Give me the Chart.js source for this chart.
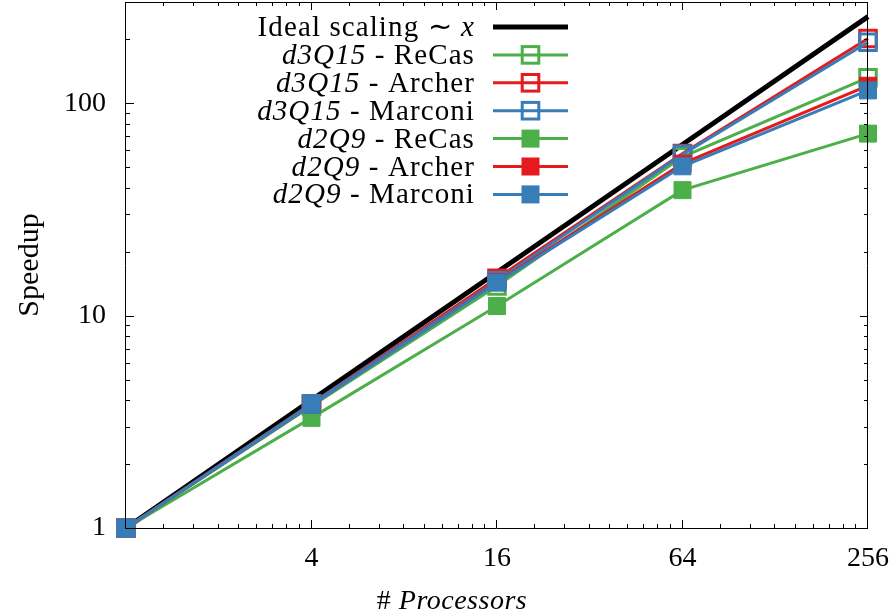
<!DOCTYPE html>
<html>
<head>
<meta charset="utf-8">
<script src="https://cdn.jsdelivr.net/npm/chart.js@4.4.1/dist/chart.umd.min.js"></script>
<style>
  html, body { margin: 0; padding: 0; background: #fff; }
</style>
</head>
<body>
<canvas id="speedup-chart" width="894" height="612"></canvas>
<script>
// processors on x, measured speedup on y (log-log)
const processors = [1, 4, 16, 64, 256];
const ideal = [1, 4, 16, 64, 256];
const d3q15ReCas = [1, 3.75, 13.8, 56, 132];
const d3q15Archer = [1, 3.85, 15.0, 58, 202];
const d3q15Marconi = [1, 3.85, 14.6, 57.5, 194];
const d2q9ReCas = [1, 3.3, 11.1, 39, 72];
const d2q9Archer = [1, 3.8, 14.4, 52, 121];
const d2q9Marconi = [1, 3.8, 14.3, 50.5, 115];

const xMajorTicks = [1, 4, 16, 64, 256];
const xTickLabels = ['', '4', '16', '64', '256'];
const yMajorTicks = [1, 10, 100];
const yTickLabels = ['1', '10', '100'];

const GREEN = '#4daf4a';
const RED = '#e41a1c';
const BLUE = '#377eb8';
const SERIF = '"Liberation Serif", "Times New Roman", serif';

// minor tics: 8 equal steps inside each factor-4 interval on x, 2..9 per decade on y
const xMinorTicks = [];
for (let b = 1; b < 256; b *= 4) {
  for (let k = 1; k < 9; k++) xMinorTicks.push(b + k * b / 3);
}
const yMinorTicks = [];
for (let b = 1; b <= 100; b *= 10) {
  for (let k = 2; k <= 9; k++) if (k * b < 300) yMinorTicks.push(k * b);
}

// [label segments, values, colour, marker]
const series = [
  [[['Ideal scaling \u223C ', false], ['x', true]], ideal, '#000', null],
  [[['d3Q15', true], [' - ReCas', false]], d3q15ReCas, GREEN, 'open'],
  [[['d3Q15', true], [' - Archer', false]], d3q15Archer, RED, 'open'],
  [[['d3Q15', true], [' - Marconi', false]], d3q15Marconi, BLUE, 'open'],
  [[['d2Q9', true], [' - ReCas', false]], d2q9ReCas, GREEN, 'filled'],
  [[['d2Q9', true], [' - Archer', false]], d2q9Archer, RED, 'filled'],
  [[['d2Q9', true], [' - Marconi', false]], d2q9Marconi, BLUE, 'filled'],
];

const datasets = series.map(([segs, vals, color, marker], i) => ({
  label: segs.map(s => s[0]).join(''),
  data: processors.map((p, j) => ({ x: p, y: vals[j] })),
  borderColor: color,
  borderWidth: marker ? 3 : 5,
  pointStyle: 'rect',
  pointRadius: marker === 'open' ? 11.7 : marker === 'filled' ? 12 : 0,
  pointBorderWidth: marker === 'open' ? 3 : 1,
  pointBorderColor: color,
  pointBackgroundColor: marker === 'filled' ? color : 'rgba(0,0,0,0)',
  tension: 0,
  clip: false,
  order: series.length - i,
}));

function tickLabel(majors, labels) {
  return v => {
    const i = majors.indexOf(v);
    return i >= 0 ? labels[i] : '';
  };
}

const frame = {
  id: 'frame',
  afterDatasetsDraw(chart) {
    const { ctx, chartArea: a, scales: { x, y } } = chart;
    ctx.save();
    ctx.strokeStyle = '#000';
    ctx.lineWidth = 1;
    ctx.beginPath();
    ctx.rect(a.left - 0.5, a.top + 0.5, a.right - a.left, a.bottom - a.top);
    ctx.stroke();

    // inward tics on all four sides
    ctx.beginPath();
    x.ticks.forEach(t => {
      const px = Math.round(x.getPixelForValue(t.value)) - 0.5;
      const len = xMajorTicks.includes(t.value) ? 8 : 4;
      ctx.moveTo(px, a.bottom); ctx.lineTo(px, a.bottom - len);
      ctx.moveTo(px, a.top); ctx.lineTo(px, a.top + len);
    });
    y.ticks.forEach(t => {
      const py = Math.round(y.getPixelForValue(t.value)) + 0.5;
      const len = yMajorTicks.includes(t.value) ? 8 : 4;
      ctx.moveTo(a.left, py); ctx.lineTo(a.left + len, py);
      ctx.moveTo(a.right, py); ctx.lineTo(a.right - len, py);
    });
    ctx.stroke();

    // x axis title
    ctx.fillStyle = '#000';
    ctx.textBaseline = 'alphabetic';
    ctx.letterSpacing = '0.5px';
    ctx.font = '28px ' + SERIF;
    const hash = '# ';
    const hw = ctx.measureText(hash).width;
    ctx.font = 'italic 28px ' + SERIF;
    const pw = ctx.measureText('Processors').width;
    const tx = 452 - (hw + pw) / 2;
    ctx.font = '28px ' + SERIF;
    ctx.fillText(hash, tx, 609);
    ctx.font = 'italic 28px ' + SERIF;
    ctx.fillText('Processors', tx + hw, 609);

    // key
    ctx.letterSpacing = '1.1px';
    const right = 475, lineX0 = 493, lineX1 = 568, top = 27, step = 27.9;
    series.forEach(([segs, , color, marker], i) => {
      const ry = top + i * step;
      const fonts = segs.map(([, it]) => (it ? 'italic ' : '') + '29px ' + SERIF);
      const widths = segs.map(([s], k) => { ctx.font = fonts[k]; return ctx.measureText(s).width; });
      let sx = right - widths.reduce((p, w) => p + w, 0);
      ctx.fillStyle = '#000';
      segs.forEach(([s], k) => {
        ctx.font = fonts[k];
        ctx.fillText(s, sx, ry + 9);
        sx += widths[k];
      });
      ctx.strokeStyle = color;
      ctx.lineWidth = marker ? 3 : 5;
      ctx.beginPath();
      ctx.moveTo(lineX0, ry); ctx.lineTo(lineX1, ry);
      ctx.stroke();
      const cx = (lineX0 + lineX1) / 2;
      if (marker === 'open') {
        ctx.lineWidth = 3;
        ctx.strokeRect(cx - 8.3, ry - 8.3, 16.6, 16.6);
      } else if (marker === 'filled') {
        ctx.fillStyle = color;
        ctx.fillRect(cx - 9, ry - 9, 18, 18);
      }
    });
    ctx.restore();
  }
};

new Chart(document.getElementById('speedup-chart'), {
  type: 'line',
  data: { datasets },
  options: {
    responsive: false,
    animation: false,
    devicePixelRatio: 1,
    layout: { autoPadding: false, padding: { top: 2, right: 26, bottom: 0, left: 0 } },
    plugins: { legend: { display: false }, tooltip: { enabled: false } },
    scales: {
      x: {
        type: 'logarithmic',
        min: 1,
        max: 256,
        afterBuildTicks: s => { s.ticks = [...xMajorTicks, ...xMinorTicks].sort((a, b) => a - b).map(v => ({ value: v })); },
        afterFit: s => { s.height = 84; s.paddingLeft = 0; s.paddingRight = 0; },
        grid: { display: false },
        border: { display: false },
        ticks: {
          autoSkip: false,
          maxRotation: 0,
          padding: 6,
          color: '#000',
          font: { family: SERIF, size: 28 },
          callback: tickLabel(xMajorTicks, xTickLabels),
        },
      },
      y: {
        type: 'logarithmic',
        min: 1,
        max: 300,
        afterBuildTicks: s => { s.ticks = [...yMajorTicks, ...yMinorTicks].sort((a, b) => a - b).map(v => ({ value: v })); },
        afterFit: s => { s.width = 126; s.paddingTop = 0; s.paddingBottom = 0; },
        grid: { display: false },
        border: { display: false },
        ticks: {
          autoSkip: false,
          padding: 12,
          color: '#000',
          font: { family: SERIF, size: 28 },
          callback: tickLabel(yMajorTicks, yTickLabels),
        },
        title: {
          display: true,
          text: 'Speedup',
          color: '#000',
          font: { family: SERIF, size: 30 },
          padding: { top: 12, bottom: 0 },
        },
      },
    },
  },
  plugins: [frame],
});
</script>
</body>
</html>
